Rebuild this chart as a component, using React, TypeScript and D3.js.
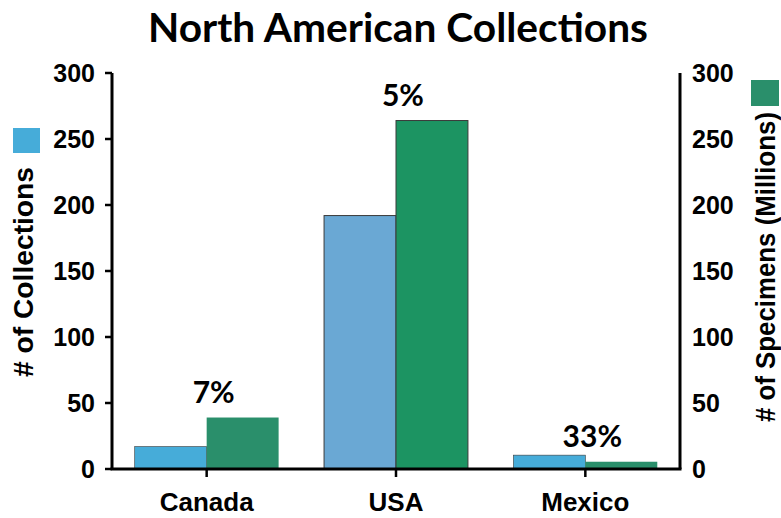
import React from "react";
import * as d3 from "d3";

const categories = ["Canada", "USA", "Mexico"];
const collections = [17, 192, 10.5];
const specimens = [39, 264, 5.5];
const percentLabels = ["7%", "5%", "33%"];
const yTicks = [0, 50, 100, 150, 200, 250, 300];

const W = 781;
const H = 518;
const margin = { left: 112, right: 101, top: 73, bottom: 49 };

const blueFill = ["#46acd9", "#6aa8d4", "#46acd9"];
const greenFill = ["#2a8f6b", "#1c9462", "#2a8f6b"];
const outlined = [false, true, false];

export default function App() {
  const x0 = margin.left;
  const x1 = W - margin.right;
  const y0 = H - margin.bottom;
  const y1 = margin.top;

  const x = d3.scaleBand<string>().domain(categories).range([x0, x1]).paddingInner(0.24).paddingOuter(0.12);
  const yL = d3.scaleLinear().domain([0, 300]).range([y0, y1]);
  const yR = d3.scaleLinear().domain([0, 300]).range([y0, y1]);
  const bw = x.bandwidth() / 2;

  const tickFont = "Arial, 'Liberation Sans', sans-serif";
  const titleFont = "Lato, 'Open Sans', sans-serif";

  return (
    <div style={{ position: "fixed", left: 0, top: 0 }}>
      <svg width={W} height={H} style={{ display: "block", background: "#fff" }}>
        <text x={398} y={42} textAnchor="middle" fontFamily={titleFont} fontWeight={700} fontSize={40} textLength={500} lengthAdjust="spacingAndGlyphs" fill="#000">
          North American Collections
        </text>

        {categories.map((c, i) => {
          const bx = x(c)!;
          const stroke = outlined[i] ? "#3a3a3a" : "none";
          return (
            <g key={c}>
              <rect x={bx} y={yL(collections[i])} width={bw} height={y0 - yL(collections[i])} fill={blueFill[i]} stroke={outlined[i] ? stroke : "#3a3a3a"} strokeWidth={outlined[i] ? 1 : 0.6} />
              <rect x={bx + bw} y={yR(specimens[i])} width={bw} height={y0 - yR(specimens[i])} fill={greenFill[i]} stroke={stroke} strokeWidth={1} />
              <text
                x={bx + bw + bw / 2 - 29}
                y={yR(specimens[i]) - 15}
                textAnchor="middle"
                fontFamily={titleFont}
                fontWeight={700}
                fontSize={30}
                fill="#000"
              >
                {percentLabels[i]}
              </text>
            </g>
          );
        })}

        {/* left axis */}
        <line x1={x0} x2={x0} y1={y1} y2={y0} stroke="#000" strokeWidth={3} />
        {yTicks.map((t) => (
          <g key={"l" + t}>
            <line x1={x0 - 7} x2={x0} y1={yL(t)} y2={yL(t)} stroke="#000" strokeWidth={2.5} />
            <text x={x0 - 17} y={yL(t)} dy="0.36em" textAnchor="end" fontFamily={tickFont} fontWeight={700} fontSize={25} fill="#000">
              {t}
            </text>
          </g>
        ))}

        {/* right axis */}
        <line x1={x1} x2={x1} y1={y1} y2={y0} stroke="#000" strokeWidth={3} />
        {yTicks.map((t) => (
          <text key={"r" + t} x={x1 + 12} y={yR(t)} dy="0.36em" textAnchor="start" fontFamily={tickFont} fontWeight={700} fontSize={25} fill="#000">
            {t}
          </text>
        ))}

        {/* bottom axis */}
        <line x1={x0 - 1.5} x2={x1 + 1.5} y1={y0} y2={y0} stroke="#000" strokeWidth={3} />
        {categories.map((c) => {
          const cx = x(c)! + x.bandwidth() / 2;
          return (
            <g key={"b" + c}>
              <line x1={cx} x2={cx} y1={y0} y2={y0 + 8} stroke="#000" strokeWidth={2.5} />
              <text x={cx} y={511} textAnchor="middle" fontFamily={tickFont} fontWeight={700} fontSize={26} fill="#000">
                {c}
              </text>
            </g>
          );
        })}

        {/* axis titles */}
        <text transform={`translate(33,272) rotate(-90)`} textAnchor="middle" fontFamily={tickFont} fontWeight={700} fontSize={28} textLength={210} lengthAdjust="spacingAndGlyphs" fill="#000">
          # of Collections
        </text>
        <text transform={`translate(775,267) rotate(-90)`} textAnchor="middle" fontFamily={tickFont} fontWeight={700} fontSize={27} textLength={310} lengthAdjust="spacingAndGlyphs" fill="#000">
          # of Specimens (Millions)
        </text>

        {/* legend swatches */}
        <rect x={13} y={128} width={27} height={25} fill="#46acd9" />
        <rect x={751} y={80} width={28} height={26} fill="#2a8f6b" />
      </svg>
    </div>
  );
}
